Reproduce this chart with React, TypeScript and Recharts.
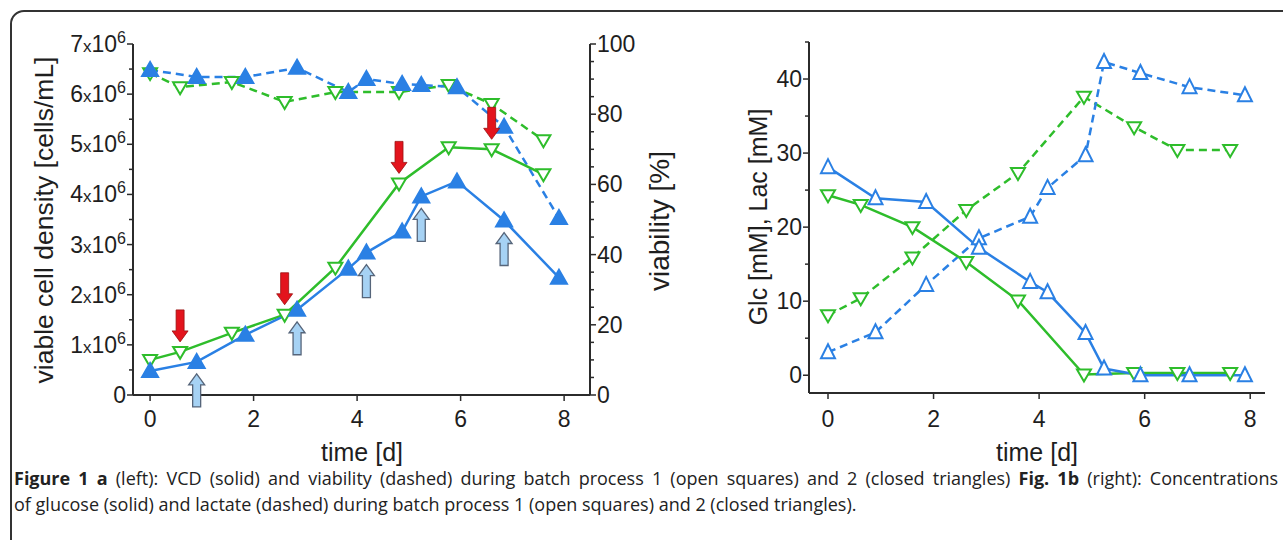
import React from "react";
import { ComposedChart, Line, XAxis, YAxis, ReferenceDot } from "recharts";

const GREEN = "#2ebd2b";
const BLUE = "#2a80e4";
const AXIS = "#2b2b2b";
const FONT = "'Liberation Sans', Arial, Helvetica, sans-serif";

// Fig. 1a, batch process 1 (green, open triangles)
const time1 = [0, 0.58, 1.58, 2.6, 3.58, 4.81, 5.77, 6.6, 7.6];
const vcd1 = [0.7e6, 0.86e6, 1.24e6, 1.6e6, 2.54e6, 4.22e6, 4.94e6, 4.9e6, 4.4e6];
const viab1 = [91.7, 87.7, 89.2, 83.5, 86.3, 86.3, 88.3, 82.9, 72.6];

// Fig. 1a, batch process 2 (blue, closed triangles)
const time2 = [0, 0.9, 1.84, 2.84, 3.83, 4.18, 4.87, 5.24, 5.93, 6.84, 7.9];
const vcd2 = [0.48e6, 0.66e6, 1.2e6, 1.7e6, 2.52e6, 2.84e6, 3.26e6, 3.96e6, 4.26e6, 3.48e6, 2.34e6];
const viab2 = [92.6, 90.6, 90.6, 93.2, 86.3, 90, 88.6, 88.3, 87.7, 76.4, 50.4];

// feed arrows
const feedTime1 = [0.58, 2.6, 4.81, 6.6];
const feedVcd1 = [0.86e6, 1.6e6, 4.22e6, 4.9e6];
const feedTime2 = [0.9, 2.84, 4.18, 5.24, 6.84];
const feedVcd2 = [0.66e6, 1.7e6, 2.84e6, 3.96e6, 3.48e6];

// Fig. 1b
const timeB1 = [0, 0.62, 1.6, 2.62, 3.6, 4.85, 5.8, 6.62, 7.62];
const glc1 = [24.3, 23, 20, 15.3, 10.1, 0.1, 0.3, 0.3, 0.3];
const lac1 = [8.1, 10.4, 15.9, 22.3, 27.3, 37.6, 33.5, 30.4, 30.4];
const timeB2 = [0, 0.9, 1.86, 2.86, 3.83, 4.16, 4.88, 5.23, 5.92, 6.85, 7.9];
const glc2 = [28.1, 23.9, 23.4, 17.2, 12.6, 11.2, 5.7, 0.9, 0, 0, 0];
const lac2 = [3.1, 5.8, 12.2, 18.5, 21.4, 25.3, 29.7, 42.3, 40.8, 38.9, 37.8];

const dayTicks = [0, 2, 4, 6, 8];
const vcdTicks = Array.from({ length: 15 }, (_, i) => i * 0.5e6);
const viabTicks = Array.from({ length: 21 }, (_, i) => i * 5);
const concTicks = Array.from({ length: 10 }, (_, i) => i * 5);

const pts = (ts: number[], vs: number[]) => ts.map((t, i) => ({ t, v: vs[i] }));

function TriDown({ cx, cy, color }: any) {
  if (cx == null || cy == null) return null;
  return (
    <polygon
      points={`${cx - 7},${cy - 5} ${cx + 7},${cy - 5} ${cx},${cy + 7}`}
      fill="#fff"
      stroke={color}
      strokeWidth={2}
    />
  );
}

function TriUp({ cx, cy, color, filled }: any) {
  if (cx == null || cy == null) return null;
  const s = filled ? 8 : 7;
  return (
    <polygon
      points={`${cx - s},${cy + 6} ${cx + s},${cy + 6} ${cx},${cy - 8}`}
      fill={filled ? color : "#fff"}
      stroke={color}
      strokeWidth={2}
    />
  );
}

const downDot = (color: string) => (p: any) => <TriDown key={`d${p.index}`} cx={p.cx} cy={p.cy} color={color} />;
const upDot = (color: string, filled: boolean) => (p: any) => (
  <TriUp key={`u${p.index}`} cx={p.cx} cy={p.cy} color={color} filled={filled} />
);

function RedArrow({ cx, cy }: any) {
  const tip = cy - 10;
  const top = cy - 42;
  const h = tip - 11;
  return (
    <polygon
      points={`${cx - 4},${top} ${cx + 4},${top} ${cx + 4},${h} ${cx + 8},${h} ${cx},${tip} ${cx - 8},${h} ${cx - 4},${h}`}
      fill="#e3141d"
      stroke="#9a1212"
      strokeWidth={0.8}
    />
  );
}

function BlueArrow({ cx, cy }: any) {
  const tip = cy + 12;
  const bot = cy + 45;
  const h = tip + 11;
  return (
    <polygon
      points={`${cx - 4},${bot} ${cx + 4},${bot} ${cx + 4},${h} ${cx + 8},${h} ${cx},${tip} ${cx - 8},${h} ${cx - 4},${h}`}
      fill="#a6d2f4"
      stroke="#56657a"
      strokeWidth={1.3}
    />
  );
}

const tickText = { fontFamily: FONT, fontSize: 23, fill: "#1e1e1e" };

function VcdTick({ x, y, payload }: any) {
  const v = payload.value;
  const major = Math.abs(v % 1e6) < 1;
  return (
    <g>
      <line x1={x} x2={x - (major ? 6 : 4)} y1={y} y2={y} stroke={AXIS} strokeWidth={1.5} />
      {major && (
        <text x={x - 7} y={y + 8} textAnchor="end" style={tickText}>
          {v === 0 ? (
            "0"
          ) : (
            <>
              {`${v / 1e6}`}
              <tspan fontSize={17}>x</tspan>
              {"10"}
              <tspan dy={-9} fontSize={16}>
                6
              </tspan>
            </>
          )}
        </text>
      )}
    </g>
  );
}

function ViabTick({ x, y, payload }: any) {
  const v = payload.value;
  const major = v % 20 === 0;
  return (
    <g>
      <line x1={x} x2={x + (major ? 6 : 4)} y1={y} y2={y} stroke={AXIS} strokeWidth={1.5} />
      {major && (
        <text x={x + 7} y={y + 8} textAnchor="start" style={tickText}>
          {v}
        </text>
      )}
    </g>
  );
}

function ConcTick({ x, y, payload }: any) {
  const v = payload.value;
  const major = v % 10 === 0;
  return (
    <g>
      <line x1={x} x2={x - (major ? 6 : 4)} y1={y} y2={y} stroke={AXIS} strokeWidth={1.5} />
      {major && (
        <text x={x - 7} y={y + 8} textAnchor="end" style={tickText}>
          {v}
        </text>
      )}
    </g>
  );
}

function VTitle({ cx, cy, text, size = 25 }: { cx: number; cy: number; text: string; size?: number }) {
  return (
    <div
      style={{
        position: "absolute",
        left: cx,
        top: cy,
        transform: "translate(-50%, -50%) rotate(-90deg)",
        whiteSpace: "nowrap",
        fontFamily: FONT,
        fontSize: size,
        lineHeight: "28px",
        color: "#1e1e1e",
      }}
    >
      {text}
    </div>
  );
}

function HTitle({ cx, cy, text }: { cx: number; cy: number; text: string }) {
  return (
    <div
      style={{
        position: "absolute",
        left: cx,
        top: cy,
        transform: "translate(-50%, -50%)",
        whiteSpace: "nowrap",
        fontFamily: FONT,
        fontSize: 25,
        lineHeight: "28px",
        color: "#1e1e1e",
      }}
    >
      {text}
    </div>
  );
}

const axisLine = { stroke: AXIS, strokeWidth: 2 };

function VcdChart() {
  return (
    <ComposedChart width={700} height={470} margin={{ top: 44, right: 0, bottom: 0, left: 0 }}>
      <XAxis
        dataKey="t"
        type="number"
        domain={[-0.33, 8.5]}
        ticks={dayTicks}
        allowDataOverflow
        height={75}
        tickSize={6}
        tickMargin={10}
        axisLine={axisLine}
        tickLine={{ stroke: AXIS, strokeWidth: 1.5 }}
        tick={tickText}
      />
      <XAxis xAxisId="top" orientation="top" type="number" domain={[0, 1]} height={0} tick={false} tickLine={false} axisLine={axisLine} />
      <YAxis
        yAxisId="vcd"
        type="number"
        domain={[0, 7e6]}
        ticks={vcdTicks}
        interval={0}
        allowDataOverflow
        width={133}
        tickSize={0}
        tickMargin={0}
        tickLine={false}
        axisLine={axisLine}
        tick={<VcdTick />}
      />
      <YAxis
        yAxisId="viab"
        orientation="right"
        type="number"
        domain={[0, 100]}
        ticks={viabTicks}
        interval={0}
        allowDataOverflow
        width={110}
        tickSize={0}
        tickMargin={0}
        tickLine={false}
        axisLine={axisLine}
        tick={<ViabTick />}
      />
      <Line yAxisId="viab" data={pts(time1, viab1)} dataKey="v" stroke={GREEN} strokeWidth={2.5} strokeDasharray="8 5" dot={downDot(GREEN)} isAnimationActive={false} />
      <Line yAxisId="viab" data={pts(time2, viab2)} dataKey="v" stroke={BLUE} strokeWidth={2.5} strokeDasharray="8 5" dot={upDot(BLUE, true)} isAnimationActive={false} />
      <Line yAxisId="vcd" data={pts(time1, vcd1)} dataKey="v" stroke={GREEN} strokeWidth={2.5} dot={downDot(GREEN)} isAnimationActive={false} />
      <Line yAxisId="vcd" data={pts(time2, vcd2)} dataKey="v" stroke={BLUE} strokeWidth={2.5} dot={upDot(BLUE, true)} isAnimationActive={false} />
      {feedTime1.map((t, i) => (
        <ReferenceDot key={`r${i}`} yAxisId="vcd" x={t} y={feedVcd1[i]} r={0} shape={(p: any) => <RedArrow cx={p.cx} cy={p.cy} />} />
      ))}
      {feedTime2.map((t, i) => (
        <ReferenceDot key={`b${i}`} yAxisId="vcd" x={t} y={feedVcd2[i]} r={0} shape={(p: any) => <BlueArrow cx={p.cx} cy={p.cy} />} />
      ))}
    </ComposedChart>
  );
}

function ConcChart() {
  return (
    <ComposedChart width={583} height={470} margin={{ top: 42, right: 18, bottom: 0, left: 0 }}>
      <XAxis
        dataKey="t"
        type="number"
        domain={[-0.36, 8.28]}
        ticks={dayTicks}
        allowDataOverflow
        height={77}
        tickSize={6}
        tickMargin={12}
        axisLine={axisLine}
        tickLine={{ stroke: AXIS, strokeWidth: 1.5 }}
        tick={tickText}
      />
      <XAxis xAxisId="top" orientation="top" type="number" domain={[0, 1]} height={0} tick={false} tickLine={false} axisLine={axisLine} />
      <YAxis
        type="number"
        domain={[-2.4, 45]}
        ticks={concTicks}
        interval={0}
        allowDataOverflow
        width={109}
        tickSize={0}
        tickMargin={0}
        tickLine={false}
        axisLine={axisLine}
        tick={<ConcTick />}
      />
      <YAxis yAxisId="frame" orientation="right" type="number" domain={[0, 1]} width={0} tick={false} tickLine={false} axisLine={axisLine} />
      <Line data={pts(timeB1, lac1)} dataKey="v" stroke={GREEN} strokeWidth={2.5} strokeDasharray="8 5" dot={downDot(GREEN)} isAnimationActive={false} />
      <Line data={pts(timeB2, lac2)} dataKey="v" stroke={BLUE} strokeWidth={2.5} strokeDasharray="8 5" dot={upDot(BLUE, false)} isAnimationActive={false} />
      <Line data={pts(timeB1, glc1)} dataKey="v" stroke={GREEN} strokeWidth={2.5} dot={downDot(GREEN)} isAnimationActive={false} />
      <Line data={pts(timeB2, glc2)} dataKey="v" stroke={BLUE} strokeWidth={2.5} dot={upDot(BLUE, false)} isAnimationActive={false} />
    </ComposedChart>
  );
}

const captionStyle: React.CSSProperties = {
  position: "absolute",
  left: 14,
  width: 1264,
  fontFamily: "'Open Sans', 'Noto Sans', sans-serif",
  fontSize: 18,
  lineHeight: "26px",
  color: "#222",
  whiteSpace: "nowrap",
};

export default function App() {
  return (
    <div style={{ position: "absolute", left: 0, top: 0, width: 1283, height: 540, overflow: "hidden", background: "#fff" }}>
      <div
        style={{
          position: "absolute",
          left: 10,
          top: 10,
          width: 1320,
          height: 600,
          border: "2px solid #333",
          borderRadius: 14,
          boxSizing: "border-box",
        }}
      />
      <div style={{ position: "absolute", left: 0, top: 0 }}>
        <VcdChart />
      </div>
      <div style={{ position: "absolute", left: 700, top: 0 }}>
        <ConcChart />
      </div>
      <VTitle cx={44} cy={220} text="viable cell density [cells/mL]" size={26.5} />
      <VTitle cx={660} cy={221} text="viability [%]" size={28} />
      <VTitle cx={758} cy={217} text="Glc [mM], Lac [mM]" size={25} />
      <HTitle cx={362} cy={452} text="time [d]" />
      <HTitle cx={1037} cy={452} text="time [d]" />
      <div style={{ ...captionStyle, top: 465, textAlign: "justify", textAlignLast: "justify" }}>
        <b>Figure 1 a</b> (left): VCD (solid) and viability (dashed) during batch process 1 (open squares) and 2 (closed
        triangles) <b>Fig. 1b</b> (right): Concentrations
      </div>
      <div style={{ ...captionStyle, top: 491 }}>
        of glucose (solid) and lactate (dashed) during batch process 1 (open squares) and 2 (closed triangles).
      </div>
    </div>
  );
}
